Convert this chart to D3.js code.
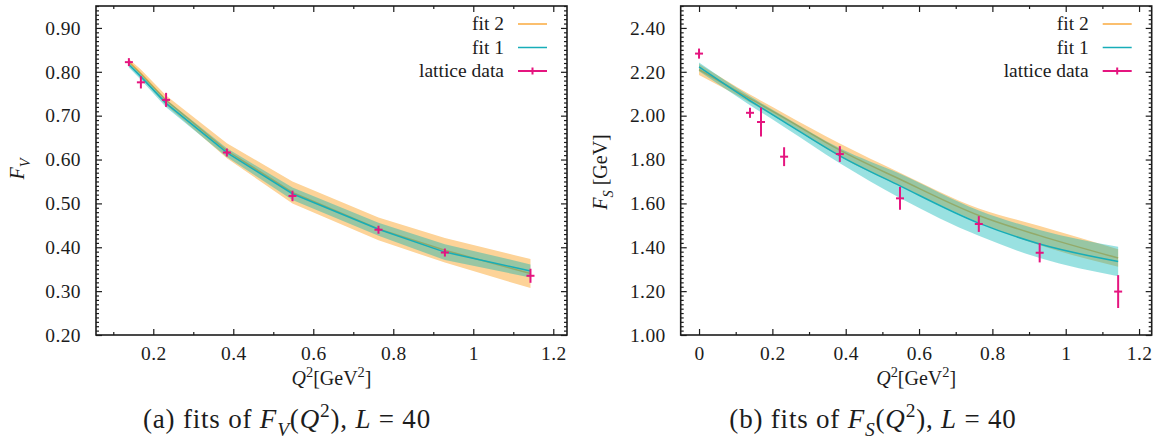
<!DOCTYPE html>
<html><head><meta charset="utf-8">
<script src="https://cdn.jsdelivr.net/npm/d3@7"></script>
<style>
html,body{margin:0;padding:0;background:#fff;}
svg, svg text{font-family:"Liberation Serif","DejaVu Serif",serif;}
</style></head><body>
<svg id="fig" width="1161" height="441"></svg>
<script>
// ---- panel (a): vector form factor F_V(Q^2) ----
const fvQ2         = [0.139, 0.169, 0.232, 0.384, 0.548, 0.763, 0.929, 1.143];
const fvLattice    = [0.822, 0.776, 0.736, 0.616, 0.517, 0.440, 0.388, 0.335];
const fvLatticeErr = [0.003, 0.014, 0.016, 0.004, 0.012, 0.009, 0.009, 0.016];
const fvFit1       = [0.816, 0.789, 0.728, 0.616, 0.522, 0.441, 0.389, 0.346];
const fvFit1Err    = [0.006, 0.007, 0.009, 0.010, 0.014, 0.015, 0.018, 0.015];
const fvFit2       = [0.823, 0.796, 0.735, 0.620, 0.525, 0.442, 0.393, 0.340];
const fvFit2Err    = [0.006, 0.009, 0.011, 0.017, 0.025, 0.026, 0.028, 0.033];
const fvYTicks = [0.20, 0.30, 0.40, 0.50, 0.60, 0.70, 0.80, 0.90];
const fvXTicks = [0.2, 0.4, 0.6, 0.8, 1.0, 1.2];

// ---- panel (b): scalar form factor F_S(Q^2) ----
const fsQ2         = [0.000, 0.139, 0.169, 0.232, 0.384, 0.548, 0.763, 0.929, 1.143];
const fsLattice    = [2.283, 2.013, 1.971, 1.813, 1.825, 1.623, 1.506, 1.375, 1.198];
const fsLatticeErr = [0.023, 0.023, 0.066, 0.043, 0.036, 0.052, 0.036, 0.044, 0.075];
const fsFit1       = [2.222, 2.068, 2.037, 1.972, 1.817, 1.680, 1.510, 1.415, 1.335];
const fsFit1Err    = [0.020, 0.020, 0.021, 0.024, 0.034, 0.055, 0.058, 0.064, 0.067];
const fsFit2       = [2.210, 2.078, 2.050, 1.990, 1.843, 1.710, 1.545, 1.453, 1.351];
const fsFit2Err    = [0.025, 0.018, 0.018, 0.020, 0.030, 0.030, 0.032, 0.044, 0.040];
const fsYTicks = [1.00, 1.20, 1.40, 1.60, 1.80, 2.00, 2.20, 2.40];
const fsXTicks = [0, 0.2, 0.4, 0.6, 0.8, 1.0, 1.2];

const legendLabels = ["fit 2", "fit 1", "lattice data"];

const FONT = '"Liberation Serif","DejaVu Serif",serif';
const C = {
  ink: "#1c1c1c",
  orangeBand: "#fdd398",
  orangeLine: "#f5a43a",
  tealBand: "#00b4b4",
  tealLine: "#17adb8",
  data: "#e5157f"
};

const svg = d3.select("#fig");

// text made of roman/italic pieces with optional sub/superscripts
function rich(parent, x, y, segs, size, anchor, rotate, spacing) {
  const t = parent.append("text")
    .attr("x", x).attr("y", y)
    .attr("font-family", FONT)
    .attr("font-size", size)
    .attr("fill", C.ink)
    .attr("text-anchor", anchor || "start");
  if (spacing) t.attr("letter-spacing", spacing);
  if (rotate) t.attr("transform", `rotate(${rotate},${x},${y})`);
  let shift = 0;
  segs.forEach(s => {
    let target = 0, fs = size;
    if (s.sub) { target = 0.3 * size; fs = 0.72 * size; }
    if (s.sup) { target = -0.4 * size; fs = 0.72 * size; }
    t.append("tspan")
      .attr("font-style", s.it ? "italic" : "normal")
      .attr("font-size", fs)
      .attr("dy", target - shift)
      .text(s.t);
    shift = target;
  });
  return t;
}

function drawPanel(cfg) {
  const g = svg.append("g").attr("font-family", FONT);
  const x = d3.scaleLinear().domain(cfg.xDomain).range([cfg.x0, cfg.x1]);
  const y = d3.scaleLinear().domain(cfg.yDomain).range([cfg.y1, cfg.y0]);

  const band = (c, e) => d3.area()
    .x((d, i) => x(cfg.q[i]))
    .y0((d, i) => y(c[i] - e[i]))
    .y1((d, i) => y(c[i] + e[i]))
    .curve(cfg.curve);
  const line = c => d3.line()
    .x((d, i) => x(cfg.q[i]))
    .y((d, i) => y(c[i]))
    .curve(cfg.curve);

  const plot = g.append("g");
  // fit 2 band + central line
  plot.append("path").datum(cfg.fit2).attr("d", band(cfg.fit2, cfg.fit2Err))
    .attr("fill", C.orangeBand);
  plot.append("path").datum(cfg.fit2).attr("d", line(cfg.fit2))
    .attr("fill", "none").attr("stroke", C.orangeLine).attr("stroke-width", 1.5);
  // fit 1 band + central line
  plot.append("path").datum(cfg.fit1).attr("d", band(cfg.fit1, cfg.fit1Err))
    .attr("fill", C.tealBand).attr("fill-opacity", 0.4);
  plot.append("path").datum(cfg.fit1).attr("d", line(cfg.fit1))
    .attr("fill", "none").attr("stroke", C.tealLine).attr("stroke-width", 1.5);

  // lattice points with vertical error bars and "+" markers
  const pts = plot.selectAll("g.pt").data(cfg.lat).join("g").attr("class", "pt")
    .attr("stroke", C.data).attr("stroke-width", 2);
  pts.append("line")
    .attr("x1", (d, i) => x(cfg.q[i])).attr("x2", (d, i) => x(cfg.q[i]))
    .attr("y1", (d, i) => Math.min(y(d + cfg.latErr[i]), y(d) - 4))
    .attr("y2", (d, i) => Math.max(y(d - cfg.latErr[i]), y(d) + 4));
  pts.append("line")
    .attr("x1", (d, i) => x(cfg.q[i]) - 4).attr("x2", (d, i) => x(cfg.q[i]) + 4)
    .attr("y1", d => y(d)).attr("y2", d => y(d));

  // axes: inward major/minor ticks on all four sides
  const axisG = g.append("g").attr("color", C.ink);
  const fmtY = d3.format(".2f");
  const fmtX = v => (v === 0 ? "0" : v === 1 ? "1" : d3.format(".1f")(v));
  const yMinor = d3.range(cfg.yDomain[0], cfg.yDomain[1] + 1e-9, cfg.yMinorStep)
    .filter(v => !cfg.yTicks.some(t => Math.abs(t - v) < 1e-6));
  const xMinor = cfg.xMinor;

  axisG.append("g").attr("transform", `translate(${cfg.x0},0)`)
    .call(d3.axisLeft(y).tickValues(cfg.yTicks).tickFormat(fmtY).tickSize(-6).tickPadding(15));
  axisG.append("g").attr("transform", `translate(${cfg.x0},0)`)
    .call(d3.axisLeft(y).tickValues(yMinor).tickFormat("").tickSize(-3));
  axisG.append("g").attr("transform", `translate(${cfg.x1},0)`)
    .call(d3.axisRight(y).tickValues(cfg.yTicks).tickFormat("").tickSize(-6));
  axisG.append("g").attr("transform", `translate(${cfg.x1},0)`)
    .call(d3.axisRight(y).tickValues(yMinor).tickFormat("").tickSize(-3));
  const bottom = axisG.append("g").attr("transform", `translate(0,${cfg.y1})`)
    .call(d3.axisBottom(x).tickValues(cfg.xTicks).tickFormat(fmtX).tickSize(-6).tickPadding(11));
  axisG.append("g").attr("transform", `translate(0,${cfg.y1})`)
    .call(d3.axisBottom(x).tickValues(xMinor).tickFormat("").tickSize(-3));
  axisG.append("g").attr("transform", `translate(0,${cfg.y0})`)
    .call(d3.axisTop(x).tickValues(cfg.xTicks).tickFormat("").tickSize(-6));
  axisG.append("g").attr("transform", `translate(0,${cfg.y0})`)
    .call(d3.axisTop(x).tickValues(xMinor).tickFormat("").tickSize(-3));
  axisG.selectAll(".domain").remove();
  axisG.selectAll("g").attr("font-family", FONT);
  axisG.selectAll(".tick line").attr("stroke-width", 1.2);
  axisG.selectAll(".tick text")
    .attr("font-family", FONT)
    .attr("font-size", 19.5).attr("letter-spacing", 0.4).attr("fill", C.ink);
  bottom.selectAll(".tick text").attr("dy", "0.71em");

  g.append("rect")
    .attr("x", cfg.x0).attr("y", cfg.y0)
    .attr("width", cfg.x1 - cfg.x0).attr("height", cfg.y1 - cfg.y0)
    .attr("fill", "none").attr("stroke", C.ink).attr("stroke-width", 1.6);

  // legend (top right, inside the frame)
  const lg = g.append("g");
  const rows = [24, 47.5, 71];
  const tx = cfg.x1 - 63, lx0 = cfg.x1 - 49, lx1 = cfg.x1 - 20;
  legendLabels.forEach((lab, i) => {
    lg.append("text").attr("x", tx).attr("y", rows[i] + 6)
      .attr("font-family", FONT)
      .attr("text-anchor", "end").attr("font-size", 19.5).attr("fill", C.ink).text(lab);
  });
  lg.append("line").attr("x1", lx0).attr("x2", lx1).attr("y1", rows[0]).attr("y2", rows[0])
    .attr("stroke", "#fbbf6e").attr("stroke-width", 2);
  lg.append("line").attr("x1", lx0).attr("x2", lx1).attr("y1", rows[1]).attr("y2", rows[1])
    .attr("stroke", C.tealLine).attr("stroke-width", 1.5);
  lg.append("line").attr("x1", lx0).attr("x2", lx1).attr("y1", rows[2]).attr("y2", rows[2])
    .attr("stroke", C.data).attr("stroke-width", 2);
  lg.append("line").attr("x1", (lx0 + lx1) / 2).attr("x2", (lx0 + lx1) / 2)
    .attr("y1", rows[2] - 3.5).attr("y2", rows[2] + 3.5)
    .attr("stroke", C.data).attr("stroke-width", 2);

  // axis titles
  const xc = (cfg.x0 + cfg.x1) / 2;
  rich(g, xc, 385, [
    { t: "Q", it: true }, { t: "2", sup: true }, { t: "[GeV" }, { t: "2", sup: true }, { t: "]" }
  ], 20, "middle");
  rich(g, cfg.yLabelX, cfg.yLabelY, cfg.yLabel, 20, "middle", -90);

  // caption under the panel
  rich(g, cfg.capX, 428, cfg.caption, 27, "middle", 0, 0.8);
}

drawPanel({
  x0: 96, x1: 567, y0: 6, y1: 335,
  xDomain: [0.0568, 1.2343], yDomain: [0.20, 0.95],
  xTicks: fvXTicks, yTicks: fvYTicks,
  xMinor: [0.1, 0.3, 0.5, 0.7, 0.9, 1.1], yMinorStep: 0.01,
  q: fvQ2, lat: fvLattice, latErr: fvLatticeErr,
  fit1: fvFit1, fit1Err: fvFit1Err, fit2: fvFit2, fit2Err: fvFit2Err,
  curve: d3.curveLinear,
  yLabelX: 24, yLabelY: 169,
  yLabel: [{ t: "F", it: true }, { t: "V", it: true, sub: true }],
  capX: 287,
  caption: [{ t: "(a) fits of " }, { t: "F", it: true }, { t: "V", it: true, sub: true },
            { t: "(" }, { t: "Q", it: true }, { t: "2", sup: true }, { t: "), " },
            { t: "L", it: true }, { t: " = 40" }]
});

drawPanel({
  x0: 680.7, x1: 1151.7, y0: 6, y1: 335,
  xDomain: [-0.05, 1.2345], yDomain: [1.00, 2.50],
  xTicks: fsXTicks, yTicks: fsYTicks,
  xMinor: [0.1, 0.3, 0.5, 0.7, 0.9, 1.1], yMinorStep: 0.02,
  q: fsQ2, lat: fsLattice, latErr: fsLatticeErr,
  fit1: fsFit1, fit1Err: fsFit1Err, fit2: fsFit2, fit2Err: fsFit2Err,
  curve: d3.curveMonotoneX,
  yLabelX: 607, yLabelY: 172,
  yLabel: [{ t: "F", it: true }, { t: "S", it: true, sub: true }, { t: " [GeV]" }],
  capX: 873,
  caption: [{ t: "(b) fits of " }, { t: "F", it: true }, { t: "S", it: true, sub: true },
            { t: "(" }, { t: "Q", it: true }, { t: "2", sup: true }, { t: "), " },
            { t: "L", it: true }, { t: " = 40" }]
});
</script>
</body></html>
